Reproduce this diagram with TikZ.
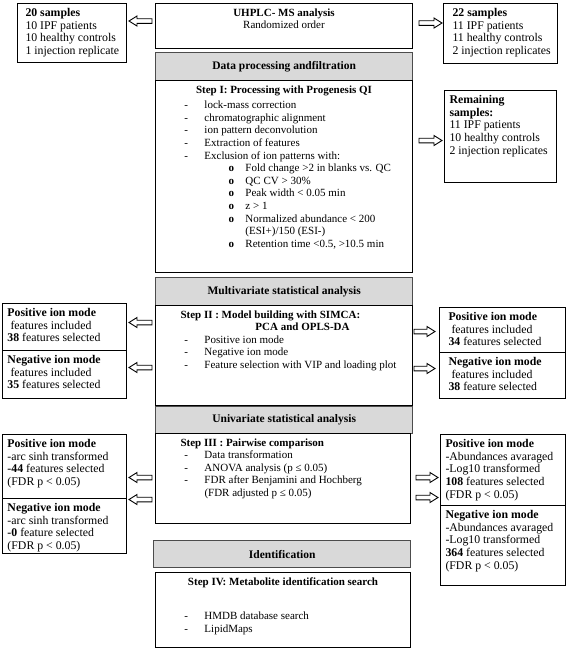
\documentclass[tikz,border=0pt]{standalone}
\usepackage{fontspec}
\setmainfont{Liberation Serif}
\usetikzlibrary{calc}

\newcommand{\cell}[3]{\parbox[t][\dimexpr#2pt-10pt\relax][t]{\dimexpr#1pt-10pt\relax}{#3}}
\newcommand{\dsh}[1]{\hspace*{24pt}\makebox[20pt][l]{-}#1}
\newcommand{\crc}[1]{\hspace*{68pt}\makebox[17pt][l]{\textbf{o}}#1}
\newcommand{\ctr}[1]{\makebox[\linewidth]{#1}}

\begin{document}
\begin{tikzpicture}[x=1pt,y=-1pt,
  box/.style={draw, line width=1pt, anchor=north west, inner sep=5pt, font=\fontsize{11}{12.6}\selectfont},
  side/.style={box, font=\fontsize{11.8}{12.6}\selectfont},
  head/.style={draw=gray!60!black, line width=1.4pt, fill=gray!30, anchor=north west, minimum height=27pt, font=\fontsize{11.5}{12.6}\selectfont\bfseries},
  hollow/.style 2 args={draw, line width=0.9pt, to path={
    let \p1=(\tikztostart), \p2=(\tikztotarget), \n1={(\x2>\x1)?1:-1},
        \n2={\x1+\n1*#1}, \n3={\x2-\n1*#2}, \n4={\n3-\n1*8} in
    (\n2*1pt,\y1+2.3pt) -- (\n4*1pt,\y1+2.3pt) -- (\n4*1pt,\y1+5pt) -- (\n3*1pt,\y1)
    -- (\n4*1pt,\y1-5pt) -- (\n4*1pt,\y1-2.3pt) -- (\n2*1pt,\y1-2.3pt) -- cycle}}]
\useasboundingbox (0,0) rectangle (567,649);

\node[box] (uhplc) at (155,3) {\cell{257}{45}{\ctr{\textbf{UHPLC- MS analysis}}\\\ctr{Randomized order}}};
\node[side] (samplesL) at (17,3) {\cell{109}{59}{\leftskip=3pt\textbf{20 samples}\\10 IPF patients\\10 healthy controls\\1 injection replicate}};
\node[side] (samplesR) at (443,3) {\cell{114}{60}{\leftskip=4pt\textbf{22 samples}\\11 IPF patients\\11 healthy controls\\2 injection replicates}};

\node[head, minimum width=257pt, minimum height=28pt] (dphead) at (155,52) {Data processing andfiltration};
\node[box] (step1) at (155,80) {\cell{257}{192}{\ctr{\textbf{Step I: Processing with Progenesis QI}}\\[3pt]
  \dsh{lock-mass correction}\\
  \dsh{chromatographic alignment}\\
  \dsh{ion pattern deconvolution}\\
  \dsh{Extraction of features}\\
  \dsh{Exclusion of ion patterns with:}\\
  \crc{Fold change >2 in blanks vs. QC}\\
  \crc{QC CV > 30\%}\\
  \crc{Peak width < 0.05 min}\\
  \crc{z > 1}\\
  \crc{Normalized abundance < 200}\\
  \hspace*{85pt}(ESI+)/150 (ESI-)\\
  \crc{Retention time <0.5, >10.5 min}}};
\node[side] (remain) at (444,90) {\cell{112}{92}{\textbf{Remaining}\\\textbf{samples:}\\11 IPF patients\\10 healthy controls\\2 injection replicates}};

\node[head, minimum width=257pt, minimum height=28pt] (mvhead) at (155,277) {Multivariate statistical analysis};
\node[box] (step2) at (155,305) {\cell{257}{100}{\hspace*{20pt}\textbf{Step II : Model building with SIMCA:}\\
  \hspace*{95pt}\textbf{PCA and OPLS-DA}\\
  \dsh{Positive ion mode}\\
  \dsh{Negative ion mode}\\
  \dsh{Feature selection with VIP and loading plot}}};
\node[side] (mvposL) at (2,303) {\cell{124}{47}{\textbf{Positive ion mode}\\\hspace*{3pt}features included\\\textbf{38} features selected}};
\node[side] (mvnegL) at (2,350) {\cell{124}{48}{\textbf{Negative ion mode}\\\hspace*{3pt}features included\\\textbf{35} features selected}};
\node[side] (mvposR) at (439,307) {\cell{126}{45}{\leftskip=4pt\textbf{Positive ion mode}\\\hspace*{3pt}features included\\\textbf{34} features selected}};
\node[side] (mvnegR) at (439,352) {\cell{126}{46}{\leftskip=4pt\textbf{Negative ion mode}\\\hspace*{3pt}features included\\\textbf{38} feature selected}};

\node[head, minimum width=257pt] (uvhead) at (155,406) {Univariate statistical analysis};
\node[box] (step3) at (155,433) {\cell{255}{90}{\hspace*{20pt}\textbf{Step III : Pairwise comparison}\\
  \dsh{Data transformation}\\
  \dsh{ANOVA analysis (p ≤ 0.05)}\\
  \dsh{FDR after Benjamini and Hochberg}\\
  \hspace*{44pt}(FDR adjusted p ≤ 0.05)}};
\node[side] (uvposL) at (2,434) {\cell{124}{64}{\textbf{Positive ion mode}\\-arc sinh transformed\\\textbf{-44} features selected\\(FDR p < 0.05)}};
\node[side] (uvnegL) at (2,498) {\cell{124}{55}{\textbf{Negative ion mode}\\-arc sinh transformed\\\textbf{-0} feature selected\\(FDR p < 0.05)}};
\node[side] (uvposR) at (440,434) {\cell{125}{71}{\textbf{Positive ion mode}\\-Abundances avaraged\\-Log10 transformed\\\textbf{108} features selected\\(FDR p < 0.05)}};
\node[side] (uvnegR) at (440,505) {\cell{125}{80}{\textbf{Negative ion mode}\\-Abundances avaraged\\-Log10 transformed\\\textbf{364} features selected\\(FDR p < 0.05)}};

\node[head, minimum width=257pt] (idhead) at (153,540) {Identification};
\node[box] (step4) at (155,572) {\cell{255}{75}{\ctr{\textbf{Step IV: Metabolite identification search}}\\[22pt]
  \dsh{HMDB database search}\\
  \dsh{LipidMaps}}};

\draw[hollow={3}{2}] ([yshift=5pt]uhplc.west) to (samplesL.east);
\draw[hollow={6}{1}] ([yshift=3pt]uhplc.east) to (samplesR.west);
\draw[hollow={6}{2}] ([yshift=36pt]step1.east) to (remain.west);
\draw[hollow={3}{2}] ([yshift=33pt]step2.west) to (mvposL.east);
\draw[hollow={3}{2}] ([yshift=-12pt]step2.west) to (mvnegL.east);
\draw[hollow={1}{4}] ([yshift=24pt]step2.east) to (mvposR.west);
\draw[hollow={1}{4}] ([yshift=-13pt]step2.east) to (mvnegR.west);
\draw[hollow={3}{2}] ([yshift=1pt]step3.west) to (uvposL.east);
\draw[hollow={3}{2}] ([yshift=-21pt]step3.west) to (uvnegL.east);
\draw[hollow={5}{2}] ([yshift=1pt]step3.east) to (uvposR.west);
\draw[hollow={5}{2}] ([yshift=-19pt]step3.east) to (uvnegR.west);
\end{tikzpicture}
\end{document}
